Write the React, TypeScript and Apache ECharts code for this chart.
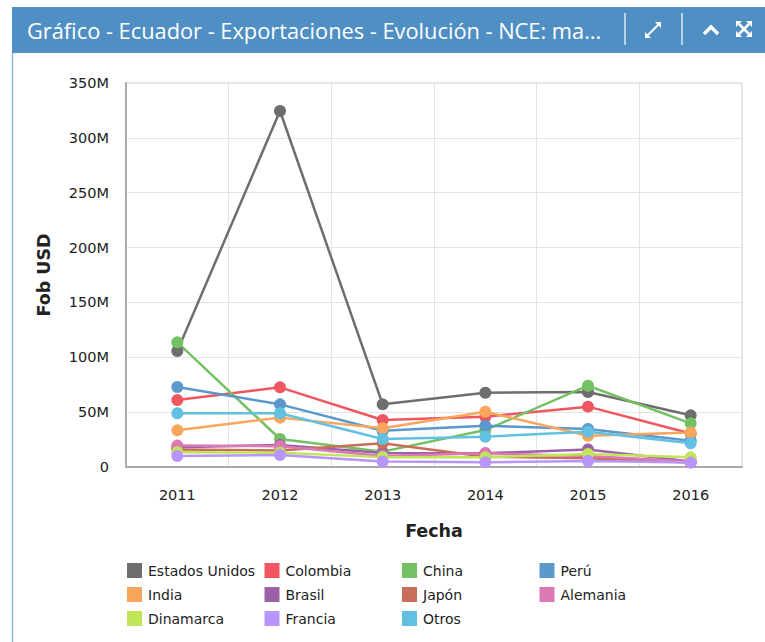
import React, { useEffect, useRef } from "react";
import * as echarts from "echarts";

const years = ["2011", "2012", "2013", "2014", "2015", "2016"];
const seriesNames = [
  "Estados Unidos", "Colombia", "China", "Perú",
  "India", "Brasil", "Japón", "Alemania",
  "Dinamarca", "Francia", "Otros",
];
const seriesColors = [
  "#6e6e6e", "#f05660", "#74c164", "#5b98cc",
  "#f8a65c", "#9b62a8", "#c96e58", "#db79b4",
  "#c2e557", "#b895fb", "#62c0e2",
];
const estadosUnidos = [105.7, 324.5, 57.1, 67.7, 68.4, 47.1];
const colombia = [61, 72.6, 42.8, 45.9, 55, 30.5];
const china = [113.6, 25.5, 14, 33.7, 74.1, 39.8];
const peru = [72.9, 57.1, 33.1, 37.7, 34.6, 24];
const india = [33.4, 45, 35.3, 50.4, 28.5, 31.5];
const brasil = [18, 20, 12.7, 12.5, 16, 5];
const japon = [16, 15, 21.6, 9.4, 8, 4];
const alemania = [19.5, 19, 10, 12.5, 10, 5];
const dinamarca = [13.5, 13, 9, 8.8, 11.8, 8.8];
const francia = [10, 11, 5, 4.3, 5.5, 4];
const otros = [49, 49, 25.5, 27.6, 32.2, 21.6];
const yTicks = ["0", "50M", "100M", "150M", "200M", "250M", "300M", "350M"];
const titleText = "Gráfico - Ecuador - Exportaciones - Evolución - NCE: ma...";

const allValues = [
  estadosUnidos, colombia, china, peru, india, brasil,
  japon, alemania, dinamarca, francia, otros,
];

export default function App() {
  const ref = useRef<HTMLDivElement>(null);
  useEffect(() => {
    if (!ref.current) return;
    const chart = echarts.init(ref.current, null, { renderer: "svg" });
    const font = "DejaVu Sans";
    const legends = seriesNames.map((n, i) => ({
      data: [n],
      left: 127 + (i % 4) * 137.5,
      top: 563 + Math.floor(i / 4) * 24,
      icon: "rect",
      itemWidth: 15,
      itemHeight: 15,
      itemGap: 0,
      itemStyle: { borderWidth: 0 },
      textStyle: { fontFamily: font, fontSize: 14, color: "#222", padding: [0, 0, 0, 1] },
      padding: 0,
      selectedMode: false,
    }));
    chart.setOption({
      animation: false,
      backgroundColor: "#ffffff",
      color: seriesColors,
      grid: { left: 126, right: 23, top: 83, bottom: 175, show: true, borderColor: "#cccccc", borderWidth: 1 },
      legend: legends,
      xAxis: {
        type: "category",
        data: years,
        boundaryGap: true,
        name: "Fecha",
        nameLocation: "middle",
        nameGap: 55,
        nameTextStyle: { fontFamily: font, fontSize: 17.5, fontWeight: "bold", color: "#222" },
        axisLine: { lineStyle: { color: "#aaaaaa", width: 2 } },
        axisTick: { show: false },
        axisLabel: { fontFamily: font, fontSize: 14.5, color: "#222", margin: 20 },
        splitLine: { show: true, lineStyle: { color: "#e3e3e3", width: 1 } },
      },
      yAxis: {
        type: "value",
        min: 0,
        max: 350e6,
        interval: 50e6,
        name: "Fob USD",
        nameLocation: "middle",
        nameGap: 73,
        nameTextStyle: { fontFamily: font, fontSize: 17.5, fontWeight: "bold", color: "#222" },
        axisLine: { show: true, lineStyle: { color: "#aaaaaa", width: 2 } },
        axisTick: { show: false },
        axisLabel: {
          fontFamily: font, fontSize: 14.5, color: "#222", margin: 17,
          formatter: (v: number) => yTicks[Math.round(v / 50e6)] ?? "",
        },
        splitLine: { show: true, lineStyle: { color: "#e3e3e3", width: 1 } },
      },
      series: seriesNames.map((n, i) => ({
        name: n,
        type: "line",
        data: allValues[i].map((v) => v * 1e6),
        symbol: "circle",
        symbolSize: 12,
        lineStyle: { width: 2.5 },
        itemStyle: { color: seriesColors[i] },
        emphasis: { disabled: true },
      })),
      graphic: [
        { type: "rect", shape: { x: 12, y: 7, width: 753, height: 46 }, style: { fill: "#4f8fc3" }, silent: true },
        { type: "line", shape: { x1: 12.5, y1: 53, x2: 12.5, y2: 642 }, style: { stroke: "#8fb7da", lineWidth: 1.5 } },
        {
          type: "text", x: 27, y: 30,
          style: { text: titleText, fill: "#ffffff", font: "21.8px 'Open Sans'", textVerticalAlign: "middle" },
        },
        { type: "line", shape: { x1: 625, y1: 13, x2: 625, y2: 45 }, style: { stroke: "#dbe8f3", lineWidth: 1.5 } },
        { type: "line", shape: { x1: 682, y1: 13, x2: 682, y2: 45 }, style: { stroke: "#dbe8f3", lineWidth: 1.5 } },
        // expand icon
        { type: "line", shape: { x1: 647, y1: 36, x2: 659, y2: 24 }, style: { stroke: "#ffffff", lineWidth: 2 } },
        { type: "polygon", shape: { points: [[661, 22], [661, 28], [655, 22]] }, style: { fill: "#ffffff" } },
        { type: "polygon", shape: { points: [[645, 38], [645, 32], [651, 38]] }, style: { fill: "#ffffff" } },
        // caret
        { type: "polyline", shape: { points: [[704, 34], [711, 27], [718, 34]] }, style: { stroke: "#ffffff", lineWidth: 3.5, fill: "none" } },
        // fullscreen
        { type: "line", shape: { x1: 739, y1: 24, x2: 749, y2: 34 }, style: { stroke: "#ffffff", lineWidth: 2.5 } },
        { type: "line", shape: { x1: 749, y1: 24, x2: 739, y2: 34 }, style: { stroke: "#ffffff", lineWidth: 2.5 } },
        { type: "polygon", shape: { points: [[736, 21], [742, 21], [736, 27]] }, style: { fill: "#ffffff" } },
        { type: "polygon", shape: { points: [[752, 21], [746, 21], [752, 27]] }, style: { fill: "#ffffff" } },
        { type: "polygon", shape: { points: [[736, 37], [742, 37], [736, 31]] }, style: { fill: "#ffffff" } },
        { type: "polygon", shape: { points: [[752, 37], [746, 37], [752, 31]] }, style: { fill: "#ffffff" } },
      ],
    });
    return () => chart.dispose();
  }, []);
  return (
    <div
      ref={ref}
      style={{ position: "fixed", left: 0, top: 0, width: 765, height: 642, background: "#fff" }}
    />
  );
}
